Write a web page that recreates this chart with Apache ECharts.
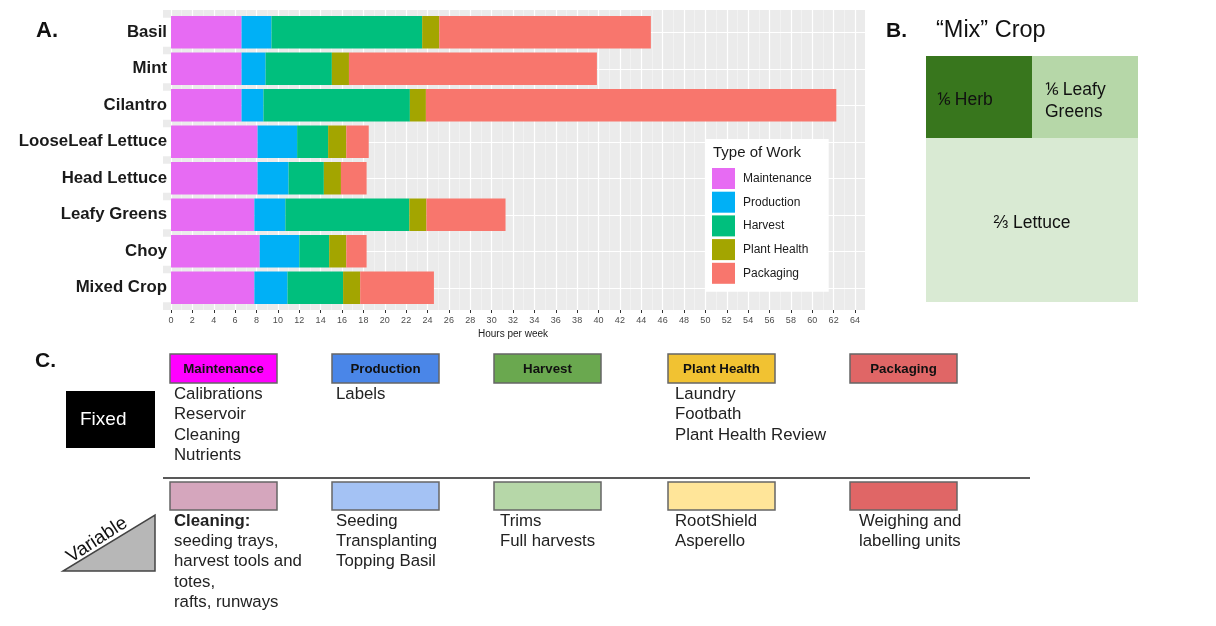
<!DOCTYPE html>
<html><head><meta charset="utf-8">
<script src="https://cdn.jsdelivr.net/npm/echarts/dist/echarts.min.js"></script>
<style>html,body{margin:0;padding:0;background:#fff}#c{width:1216px;height:626px}</style>
</head><body><div id="c"></div><script>
// ---------- Panel A data (hours per week) ----------
const crops = ['Basil','Mint','Cilantro','LooseLeaf Lettuce','Head Lettuce','Leafy Greens','Choy','Mixed Crop'];
const workTypes = ['Maintenance','Production','Harvest','Plant Health','Packaging'];
const maintenance = [6.6, 6.6, 6.6, 8.1, 8.1, 7.8, 8.3, 7.8];
const production  = [2.8, 2.25, 2.05, 3.7, 2.9, 2.9, 3.7, 3.1];
const harvest     = [14.1, 6.2, 13.7, 2.9, 3.3, 11.6, 2.8, 5.2];
const plantHealth = [1.6, 1.6, 1.5, 1.7, 1.6, 1.6, 1.6, 1.6];
const packaging   = [19.8, 23.2, 38.4, 2.1, 2.4, 7.4, 1.9, 6.9];
const workColors  = ['#E76BF3','#00B0F6','#00BF7D','#A3A500','#F8766D'];
const xAxisMin = 0, xAxisMax = 64, xAxisStep = 2;

// ---------- Panel B data (shares of mix crop, in sixths) ----------
const mixParts  = ['⅙ Herb', '⅙ Leafy\nGreens', '⅔ Lettuce'];
const mixShares = [1, 1, 4];
const mixColors = ['#38761d', '#b6d7a8', '#d9ead3'];

// ---------- Panel C data ----------
const fixedColors    = ['#ff00ff','#4a86e8','#6aa84f','#f1c232','#e06666'];
const variableColors = ['#d5a6bd','#a4c2f4','#b6d7a8','#ffe599','#e06666'];
const fixedTasks = [
  ['Calibrations','Reservoir','Cleaning','Nutrients'],
  ['Labels'],
  [],
  ['Laundry','Footbath','Plant Health Review'],
  []
];
const variableTasks = [
  ['Cleaning:','seeding trays,','harvest tools and','totes,','rafts, runways'],
  ['Seeding','Transplanting','Topping Basil'],
  ['Trims','Full harvests'],
  ['RootShield','Asperello'],
  ['Weighing and','labelling units']
];

const FONT = 'Liberation Sans, Arial, sans-serif';
const seriesValues = [maintenance, production, harvest, plantHealth, packaging];

const series = workTypes.map((name, i) => ({
  name, type: 'bar', stack: 'total', xAxisIndex: 0, yAxisIndex: 0,
  barCategoryGap: '11%', z: 2,
  itemStyle: { color: workColors[i] },
  data: seriesValues[i],
  emphasis: { disabled: true },
  markLine: i === 0 ? {
    silent: true, symbol: 'none', z: 1, label: { show: false },
    lineStyle: { color: '#ffffff', width: 1.2, type: 'solid' },
    data: crops.map(c => ({ yAxis: c }))
  } : undefined
}));

// Panel B treemap
const mixNodes = mixParts.map((n, i) => ({ name: n, value: mixShares[i], itemStyle: { color: mixColors[i] } }));
mixNodes[0].label = { position: 'insideLeft', distance: 6, offset: [0, 3] };
mixNodes[1].label = { position: 'insideLeft', distance: 8, lineHeight: 22, offset: [0, 4] };
mixNodes[2].label = { position: 'inside', offset: [0, 3] };
series.push({
  type: 'treemap', left: 926, top: 56, width: 212, height: 246,
  roam: false, nodeClick: false, sort: false, squareRatio: 1, breadcrumb: { show: false },
  silent: true,
  itemStyle: { borderWidth: 0, gapWidth: 0 },
  levels: [
    { itemStyle: { borderWidth: 0, gapWidth: 0 } },
    { itemStyle: { borderWidth: 0, gapWidth: 0 } },
    { itemStyle: { borderWidth: 0, gapWidth: 0 } }
  ],
  label: { show: true, color: '#111', fontSize: 17.5, fontFamily: FONT },
  upperLabel: { show: false },
  data: [
    { name: '', children: [mixNodes[0], mixNodes[1]] },
    mixNodes[2]
  ]
});

// Panel C graphics
const graphics = [
  { type: 'rect', z: -10, silent: true, shape: { x: 163, y: 10, width: 702, height: 300 }, style: { fill: '#EBEBEB' } },
  { type: 'text', z: 10, x: 713, y: 153, style: { text: 'Type of Work', fontSize: 15, fill: '#1a1a1a', fontFamily: FONT, verticalAlign: 'middle' } },
  { type: 'text', x: 36, y: 31, style: { text: 'A.', fontSize: 22, fontWeight: 'bold', fill: '#111', fontFamily: FONT, verticalAlign: 'middle' } },
  { type: 'text', x: 886, y: 31, style: { text: 'B.', fontSize: 21, fontWeight: 'bold', fill: '#111', fontFamily: FONT, verticalAlign: 'middle' } },
  { type: 'text', x: 936, y: 31, style: { text: '“Mix” Crop', fontSize: 23.5, fill: '#111', fontFamily: FONT, verticalAlign: 'middle' } },
  { type: 'text', x: 35, y: 361, style: { text: 'C.', fontSize: 21, fontWeight: 'bold', fill: '#111', fontFamily: FONT, verticalAlign: 'middle' } },
  { type: 'rect', shape: { x: 66, y: 391, width: 89, height: 57 }, style: { fill: '#000' } },
  { type: 'text', x: 80, y: 420, style: { text: 'Fixed', fontSize: 19, fill: '#fff', fontFamily: FONT, verticalAlign: 'middle', align: 'left' } },
  { type: 'polygon', shape: { points: [[63, 571], [155, 571], [155, 515]] }, style: { fill: '#b7b7b7', stroke: '#444', lineWidth: 1.5 } },
  { type: 'text', x: 97, y: 540, rotation: 33 * Math.PI / 180, style: { text: 'Variable', fontSize: 19, fill: '#111', fontFamily: FONT, align: 'center', verticalAlign: 'middle' } },
  { type: 'line', shape: { x1: 163, y1: 478, x2: 1030, y2: 478 }, style: { stroke: '#222', lineWidth: 1.3 } }
];
const boxX = [170, 332, 494, 668, 850];
const textX = [174, 336, 500, 675, 859];
workTypes.forEach((w, i) => {
  graphics.push({ type: 'rect', shape: { x: boxX[i], y: 354, width: 107, height: 29 }, style: { fill: fixedColors[i], stroke: '#666', lineWidth: 1.5 } });
  graphics.push({ type: 'text', x: boxX[i] + 53.5, y: 369, style: { text: w, fontSize: 13.3, fontWeight: 'bold', fill: '#111', fontFamily: FONT, align: 'center', verticalAlign: 'middle' } });
  graphics.push({ type: 'rect', shape: { x: boxX[i], y: 482, width: 107, height: 28 }, style: { fill: variableColors[i], stroke: '#666', lineWidth: 1.5 } });
  fixedTasks[i].forEach((t, j) => graphics.push({ type: 'text', x: textX[i], y: 394.5 + j * 20.3, style: { text: t, fontSize: 16.8, fill: '#222', fontFamily: FONT, verticalAlign: 'middle' } }));
  variableTasks[i].forEach((t, j) => graphics.push({ type: 'text', x: textX[i], y: 521 + j * 20.3, style: { text: t, fontSize: 16.8, fontWeight: t.endsWith(':') ? 'bold' : 'normal', fill: '#222', fontFamily: FONT, verticalAlign: 'middle' } }));
});

const option = {
  animation: false,
  backgroundColor: '#fff',
  grid: [
    { left: 163, top: 14, width: 702, height: 292, outerBoundsMode: 'none', containLabel: false },
    { left: 171, top: 10, width: 684, height: 300, outerBoundsMode: 'none', containLabel: false }
  ],
  xAxis: [
    { type: 'value', gridIndex: 0, min: -0.75, max: 64.934, show: false },
    { type: 'value', gridIndex: 1, min: xAxisMin, max: xAxisMax, interval: xAxisStep,
      axisLine: { show: false },
      axisTick: { show: true, length: 3, lineStyle: { color: '#333', width: 1 } },
      axisLabel: { fontSize: 9, color: '#4d4d4d', margin: 6, fontFamily: FONT },
      splitLine: { show: true, lineStyle: { color: '#ffffff', width: 1.2 } },
      minorTick: { show: false, splitNumber: 2 },
      minorSplitLine: { show: true, lineStyle: { color: '#f7f7f7', width: 0.6 } },
      name: 'Hours per week', nameLocation: 'middle', nameGap: 19,
      nameTextStyle: { fontSize: 10, color: '#222', fontFamily: FONT } }
  ],
  yAxis: [
    { type: 'category', gridIndex: 0, data: crops, inverse: true, z: 3,
      axisLine: { show: false },
      axisTick: { show: false },
      axisLabel: { fontSize: 16.8, fontWeight: 'bold', color: '#1a1a1a', margin: -8, fontFamily: FONT,
        backgroundColor: '#ffffff', padding: [6, 4, 6, 3] },
      splitLine: { show: false } },
    { type: 'value', gridIndex: 1, show: false, min: 0, max: 1 }
  ],
  legend: {
    data: workTypes, orient: 'vertical', left: 706, top: 139,
    padding: [29, 17, 8, 6], itemGap: 2.7, itemWidth: 23, itemHeight: 21,
    icon: 'rect', backgroundColor: '#ffffff', selectedMode: false,
    textStyle: { fontSize: 12, color: '#1a1a1a', fontFamily: FONT, padding: [0, 0, 0, 3] }
  },
  series,
  graphic: { elements: graphics }
};
const chart = echarts.init(document.getElementById('c'), null, { renderer: 'canvas' });
chart.setOption(option);
</script></body></html>
